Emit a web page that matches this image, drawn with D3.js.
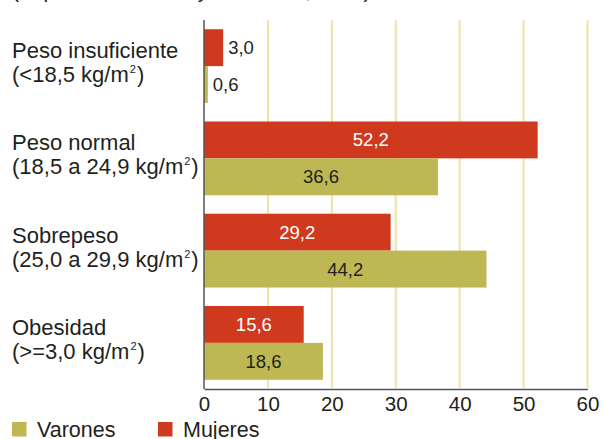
<!DOCTYPE html>
<meta charset="utf-8">
<style>
body { margin: 0; background: #fff; }
svg { font-family: "Liberation Sans", Arial, sans-serif; }
.grid line { stroke: #efe2a6; stroke-width: 2px; }
.axis path, .axis line { stroke: #555; }
</style>
<body>
<script src="https://d3js.org/d3.v7.min.js"></script>
<script>

var width = 603, height = 439;

// data
var categories = ["Peso insuficiente", "Peso normal", "Sobrepeso", "Obesidad"];
var rangos = ["(<18,5 kg/m", "(18,5 a 24,9 kg/m", "(25,0 a 29,9 kg/m", "(>=3,0 kg/m"];
var mujeres = [3.0, 52.2, 29.2, 15.6];
var varones = [0.6, 36.6, 44.2, 18.6];
var tickValues = [0, 10, 20, 30, 40, 50, 60];
var series = [
  {name: "Mujeres", values: mujeres, color: "#cf3a1f", label: "#fff"},
  {name: "Varones", values: varones, color: "#bdb853", label: "#231f20"}
];

var fmt = function(v) { return d3.format(".1f")(v).replace(".", ","); };

var svg = d3.select("body").append("svg")
    .attr("width", width)
    .attr("height", height);

var x = d3.scaleLinear().domain([0, 60]).range([204, 587.5]);
var y = d3.scaleBand().domain(categories).range([20, 389])
    .paddingInner(0.2).paddingOuter(0.1);
var sub = d3.scaleBand().domain(["Mujeres", "Varones"]).range([0, y.bandwidth()]);

// title, cut off at the top in the original
svg.append("text")
    .attr("x", 12).attr("y", -2.5)
    .style("font-size", "21px").style("fill", "#231f20")
    .text("(% población de 18 y más años, 2006)");

// grid
svg.append("g").attr("class", "grid")
  .selectAll("line")
  .data(tickValues.slice(1))
  .enter().append("line")
    .attr("x1", function(d) { return x(d); })
    .attr("x2", function(d) { return x(d); })
    .attr("y1", 20).attr("y2", 388);

// bars
series.forEach(function(s) {
  var g = svg.append("g");
  g.selectAll("rect")
    .data(s.values)
    .enter().append("rect")
      .attr("x", x(0))
      .attr("y", function(d, i) { return y(categories[i]) + sub(s.name); })
      .attr("width", function(d) { return x(d) - x(0); })
      .attr("height", sub.bandwidth())
      .style("fill", s.color);

  g.selectAll("text")
    .data(s.values)
    .enter().append("text")
      .attr("x", function(d) {
        return (x(d) - x(0) > 40) ? (x(0) + x(d)) / 2 : x(d) + 5;
      })
      .attr("y", function(d, i) { return y(categories[i]) + sub(s.name) + sub.bandwidth() / 2 + 6.5; })
      .attr("text-anchor", function(d) { return (x(d) - x(0) > 40) ? "middle" : "start"; })
      .style("font-size", "18.5px")
      .style("fill", function(d) { return (x(d) - x(0) > 40) ? s.label : "#231f20"; })
      .text(fmt);
});

// axes
svg.append("line")
    .attr("x1", x(0)).attr("x2", x(0))
    .attr("y1", 20).attr("y2", 389)
    .style("stroke", "#555").style("stroke-width", 1.5);

var xAxis = svg.append("g").attr("class", "axis")
    .attr("transform", "translate(0,389)")
    .call(d3.axisBottom(x).tickValues(tickValues).tickSize(0).tickPadding(7).tickSizeOuter(0));
xAxis.select(".domain").style("stroke-width", 1.5);
xAxis.selectAll("text")
    .style("font-size", "20.5px")
    .style("font-family", "Liberation Sans, Arial, sans-serif")
    .style("fill", "#231f20");

// category labels
var lab = svg.append("g").selectAll("text")
    .data(categories)
    .enter().append("g")
    .attr("transform", function(d) { return "translate(12," + (y(d) + y.bandwidth() / 2) + ")"; });

lab.append("text")
    .attr("y", -8)
    .style("font-size", "22px").style("fill", "#231f20")
    .text(function(d) { return d; });

var l2 = lab.append("text")
    .attr("y", 16)
    .style("font-size", "22px").style("fill", "#231f20");
l2.append("tspan").text(function(d, i) { return rangos[i]; });
l2.append("tspan").attr("dy", -9).attr("dx", 1).style("font-size", "11px").text("2");
l2.append("tspan").attr("dy", 9).attr("dx", 1).text(")");

// legend
var legend = svg.append("g").selectAll("g")
    .data([series[1], series[0]])
    .enter().append("g")
    .attr("transform", function(d, i) { return "translate(" + (12 + i * 146) + ",422)"; });

legend.append("rect")
    .attr("width", 14.5).attr("height", 14.5)
    .style("fill", function(d) { return d.color; });

legend.append("text")
    .attr("x", 25).attr("y", 14.5)
    .style("font-size", "21.5px").style("fill", "#231f20")
    .text(function(d) { return d.name; });

</script>
</body>
